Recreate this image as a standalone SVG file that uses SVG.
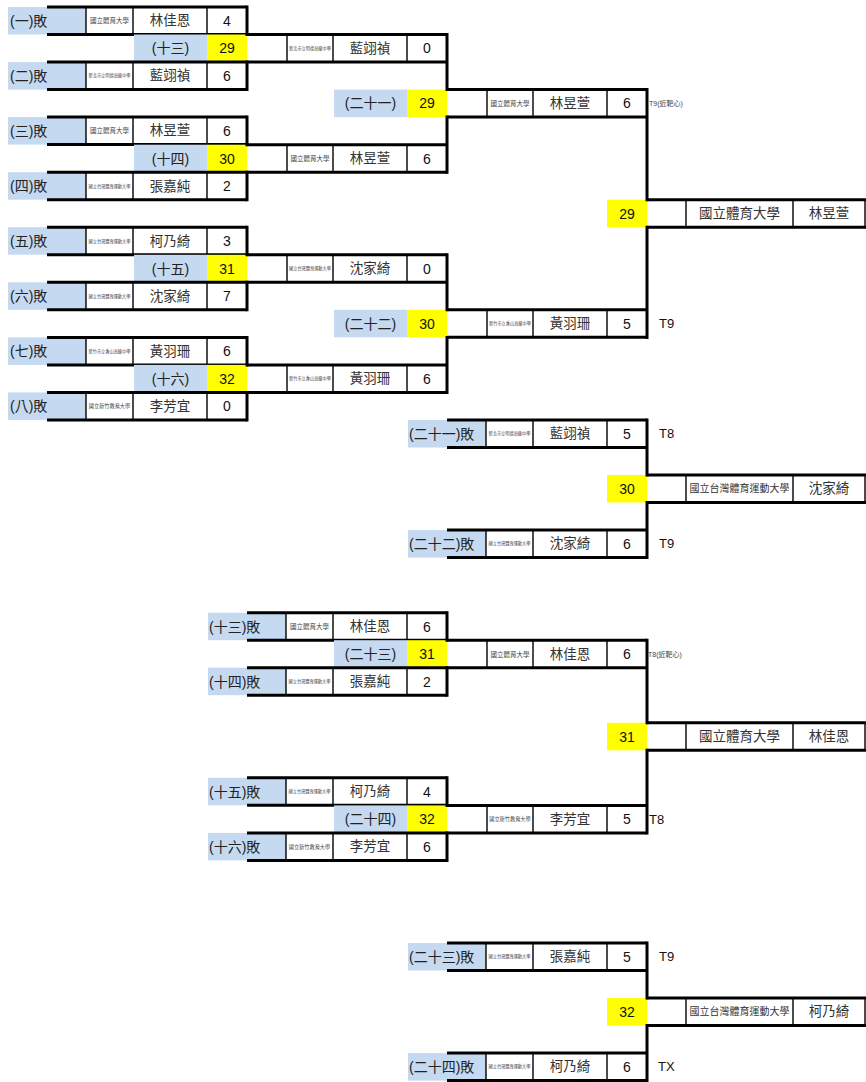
<svg xmlns="http://www.w3.org/2000/svg" width="866" height="1082" viewBox="0 0 866 1082">
<style>
text{font-family:"Liberation Sans","Noto Sans CJK TC",sans-serif;dominant-baseline:central;fill:#222}
.blue{fill:#C5D9F1}
.yel{fill:#FFFF00}
.thick{stroke:#000;stroke-width:3;fill:none}
.thin{stroke:#000;stroke-width:1.4;fill:none}
.lbl{font-size:14px}
.c{text-anchor:middle}
.nm{font-size:13.5px;text-anchor:middle;fill:#333}
.sc{font-size:14px;text-anchor:middle;fill:#111}
.s6{font-size:6.5px;text-anchor:middle;fill:#444}
.s8{font-size:5.2px;text-anchor:middle;fill:#444}
.s10{font-size:4.2px;text-anchor:middle;fill:#444}
.fs{font-size:13.5px;text-anchor:middle;fill:#333}
.fs10{font-size:10px;text-anchor:middle;fill:#333}
.note{font-size:13px;fill:#111}
.snote{font-size:7px;fill:#444}
</style>
<defs>
<g id="entry">
<rect class="blue" x="8" width="78" height="27.5"/>
<path class="thin" d="M86 0V27.5M133 0V27.5M207 0V27.5"/>
<path class="thick" d="M47 0H247M47 27.5H247"/>
</g>
<g id="win">
<rect class="blue" x="134" width="73" height="27.5"/>
<rect class="yel" x="207" width="40" height="27.5"/>
<path class="thin" d="M287 0V27.5M333 0V27.5M407 0V27.5"/>
<path class="thick" d="M247 0H447M247 27.5H447"/>
</g>
<g id="final">
<rect class="yel" x="607" width="40" height="27.5"/>
<path class="thin" d="M686 0V27.5M793 0V27.5M865 0V27.5"/>
<path class="thick" d="M647 0H866M647 27.5H866"/>
</g>
</defs>

<g id="n-1" transform="translate(0,7)"><use href="#entry"/><text class="lbl" x="10" y="13.9">(一)敗</text><text class="s6" x="109.5" y="13.9">國立體育大學</text><text class="nm" x="170" y="13.9">林佳恩</text><text class="sc" x="227" y="13.9">4</text></g>
<g id="w-13" transform="translate(0,34.5)"><use href="#win"/><text class="lbl c" x="170.5" y="13.9">(十三)</text><text class="sc" x="227" y="13.9">29</text><text class="s10" x="310" y="13.9">新北市立明德高級中學</text><text class="nm" x="370" y="13.9">藍翊禎</text><text class="sc" x="427" y="13.9">0</text></g>
<g id="n-2" transform="translate(0,62.1)"><use href="#entry"/><text class="lbl" x="10" y="13.9">(二)敗</text><text class="s10" x="109.5" y="13.9">新北市立明德高級中學</text><text class="nm" x="170" y="13.9">藍翊禎</text><text class="sc" x="227" y="13.9">6</text></g>
<g id="w-21" transform="translate(200,89.6)"><use href="#win"/><text class="lbl c" x="170.5" y="13.9">(二十一)</text><text class="sc" x="227" y="13.9">29</text><text class="s6" x="310" y="13.9">國立體育大學</text><text class="nm" x="370" y="13.9">林昱萱</text><text class="sc" x="427" y="13.9">6</text><text class="snote" x="449" y="13.9">T9(近靶心)</text></g>
<g id="n-3" transform="translate(0,117.1)"><use href="#entry"/><text class="lbl" x="10" y="13.9">(三)敗</text><text class="s6" x="109.5" y="13.9">國立體育大學</text><text class="nm" x="170" y="13.9">林昱萱</text><text class="sc" x="227" y="13.9">6</text></g>
<g id="w-14" transform="translate(0,144.7)"><use href="#win"/><text class="lbl c" x="170.5" y="13.9">(十四)</text><text class="sc" x="227" y="13.9">30</text><text class="s6" x="310" y="13.9">國立體育大學</text><text class="nm" x="370" y="13.9">林昱萱</text><text class="sc" x="427" y="13.9">6</text></g>
<g id="n-4" transform="translate(0,172.2)"><use href="#entry"/><text class="lbl" x="10" y="13.9">(四)敗</text><text class="s10" x="109.5" y="13.9">國立台灣體育運動大學</text><text class="nm" x="170" y="13.9">張嘉純</text><text class="sc" x="227" y="13.9">2</text></g>
<g id="f-29" transform="translate(0,199.7)"><use href="#final"/><text class="sc" x="627" y="13.9">29</text><text class="fs" x="739.5" y="13.9">國立體育大學</text><text class="nm" x="829" y="13.9">林昱萱</text></g>
<g id="n-5" transform="translate(0,227.2)"><use href="#entry"/><text class="lbl" x="10" y="13.9">(五)敗</text><text class="s10" x="109.5" y="13.9">國立台灣體育運動大學</text><text class="nm" x="170" y="13.9">柯乃綺</text><text class="sc" x="227" y="13.9">3</text></g>
<g id="w-15" transform="translate(0,254.8)"><use href="#win"/><text class="lbl c" x="170.5" y="13.9">(十五)</text><text class="sc" x="227" y="13.9">31</text><text class="s10" x="310" y="13.9">國立台灣體育運動大學</text><text class="nm" x="370" y="13.9">沈家綺</text><text class="sc" x="427" y="13.9">0</text></g>
<g id="n-6" transform="translate(0,282.3)"><use href="#entry"/><text class="lbl" x="10" y="13.9">(六)敗</text><text class="s10" x="109.5" y="13.9">國立台灣體育運動大學</text><text class="nm" x="170" y="13.9">沈家綺</text><text class="sc" x="227" y="13.9">7</text></g>
<g id="w-22" transform="translate(200,309.8)"><use href="#win"/><text class="lbl c" x="170.5" y="13.9">(二十二)</text><text class="sc" x="227" y="13.9">30</text><text class="s10" x="310" y="13.9">新竹市立香山高級中學</text><text class="nm" x="370" y="13.9">黃羽珊</text><text class="sc" x="427" y="13.9">5</text><text class="note" x="459" y="13.9">T9</text></g>
<g id="n-7" transform="translate(0,337.4)"><use href="#entry"/><text class="lbl" x="10" y="13.9">(七)敗</text><text class="s10" x="109.5" y="13.9">新竹市立香山高級中學</text><text class="nm" x="170" y="13.9">黃羽珊</text><text class="sc" x="227" y="13.9">6</text></g>
<g id="w-16" transform="translate(0,364.9)"><use href="#win"/><text class="lbl c" x="170.5" y="13.9">(十六)</text><text class="sc" x="227" y="13.9">32</text><text class="s10" x="310" y="13.9">新竹市立香山高級中學</text><text class="nm" x="370" y="13.9">黃羽珊</text><text class="sc" x="427" y="13.9">6</text></g>
<g id="n-8" transform="translate(0,392.4)"><use href="#entry"/><text class="lbl" x="10" y="13.9">(八)敗</text><text class="s8" x="109.5" y="13.9">國立新竹教育大學</text><text class="nm" x="170" y="13.9">李芳宜</text><text class="sc" x="227" y="13.9">0</text></g>

<g id="n-21L" transform="translate(400,420)"><use href="#entry"/><text class="lbl" x="9" y="13.9">(二十一)敗</text><text class="s10" x="109.5" y="13.9">新北市立明德高級中學</text><text class="nm" x="170" y="13.9">藍翊禎</text><text class="sc" x="227" y="13.9">5</text><text class="note" x="259" y="13.9">T8</text></g>
<g id="f-30" transform="translate(0,475)"><use href="#final"/><text class="sc" x="627" y="13.9">30</text><text class="fs10" x="739.5" y="13.9">國立台灣體育運動大學</text><text class="nm" x="829" y="13.9">沈家綺</text></g>
<g id="n-22L" transform="translate(400,530.1)"><use href="#entry"/><text class="lbl" x="9" y="13.9">(二十二)敗</text><text class="s10" x="109.5" y="13.9">國立台灣體育運動大學</text><text class="nm" x="170" y="13.9">沈家綺</text><text class="sc" x="227" y="13.9">6</text><text class="note" x="259" y="13.9">T9</text></g>

<g id="n-13L" transform="translate(200,612.7)"><use href="#entry"/><text class="lbl" x="9" y="13.9">(十三)敗</text><text class="s6" x="109.5" y="13.9">國立體育大學</text><text class="nm" x="170" y="13.9">林佳恩</text><text class="sc" x="227" y="13.9">6</text></g>
<g id="w-23" transform="translate(200,640.2)"><use href="#win"/><text class="lbl c" x="170.5" y="13.9">(二十三)</text><text class="sc" x="227" y="13.9">31</text><text class="s6" x="310" y="13.9">國立體育大學</text><text class="nm" x="370" y="13.9">林佳恩</text><text class="sc" x="427" y="13.9">6</text><text class="snote" x="448" y="13.9">T8(近靶心)</text></g>
<g id="n-14L" transform="translate(200,667.7)"><use href="#entry"/><text class="lbl" x="9" y="13.9">(十四)敗</text><text class="s10" x="109.5" y="13.9">國立台灣體育運動大學</text><text class="nm" x="170" y="13.9">張嘉純</text><text class="sc" x="227" y="13.9">2</text></g>
<g id="f-31" transform="translate(0,722.8)"><use href="#final"/><text class="sc" x="627" y="13.9">31</text><text class="fs" x="739.5" y="13.9">國立體育大學</text><text class="nm" x="829" y="13.9">林佳恩</text></g>
<g id="n-15L" transform="translate(200,777.8)"><use href="#entry"/><text class="lbl" x="9" y="13.9">(十五)敗</text><text class="s10" x="109.5" y="13.9">國立台灣體育運動大學</text><text class="nm" x="170" y="13.9">柯乃綺</text><text class="sc" x="227" y="13.9">4</text></g>
<g id="w-24" transform="translate(200,805.4)"><use href="#win"/><text class="lbl c" x="170.5" y="13.9">(二十四)</text><text class="sc" x="227" y="13.9">32</text><text class="s8" x="310" y="13.9">國立新竹教育大學</text><text class="nm" x="370" y="13.9">李芳宜</text><text class="sc" x="427" y="13.9">5</text><text class="note" x="449" y="13.9">T8</text></g>
<g id="n-16L" transform="translate(200,832.9)"><use href="#entry"/><text class="lbl" x="9" y="13.9">(十六)敗</text><text class="s8" x="109.5" y="13.9">國立新竹教育大學</text><text class="nm" x="170" y="13.9">李芳宜</text><text class="sc" x="227" y="13.9">6</text></g>

<g id="n-23L" transform="translate(400,943)"><use href="#entry"/><text class="lbl" x="9" y="13.9">(二十三)敗</text><text class="s10" x="109.5" y="13.9">國立台灣體育運動大學</text><text class="nm" x="170" y="13.9">張嘉純</text><text class="sc" x="227" y="13.9">5</text><text class="note" x="259" y="13.9">T9</text></g>
<g id="f-32" transform="translate(0,998.1)"><use href="#final"/><text class="sc" x="627" y="13.9">32</text><text class="fs10" x="739.5" y="13.9">國立台灣體育運動大學</text><text class="nm" x="829" y="13.9">柯乃綺</text></g>
<g id="n-24L" transform="translate(400,1053.1)"><use href="#entry"/><text class="lbl" x="9" y="13.9">(二十四)敗</text><text class="s10" x="109.5" y="13.9">國立台灣體育運動大學</text><text class="nm" x="170" y="13.9">柯乃綺</text><text class="sc" x="227" y="13.9">6</text><text class="note" x="258" y="13.9">TX</text></g>

<g id="connectors" class="thick" stroke-linecap="square">
<path d="M247 7V34.5M247 62.1V89.6M247 117.1V144.7M247 172.2V199.7M247 227.2V254.8M247 282.3V309.8M247 337.4V364.9M247 392.4V420"/>
<path d="M447 34.5V89.6M447 117.1V172.2M447 254.8V309.8M447 337.4V392.4M447 612.7V640.2M447 667.7V695.3M447 777.8V805.4M447 832.9V860.4"/>
<path d="M647 89.6V199.7M647 227.2V337.4M647 420V475M647 502.5V557.6M647 640.2V722.8M647 750.3V832.9M647 943V998.1M647 1025.6V1080.7"/>
</g>
</svg>
